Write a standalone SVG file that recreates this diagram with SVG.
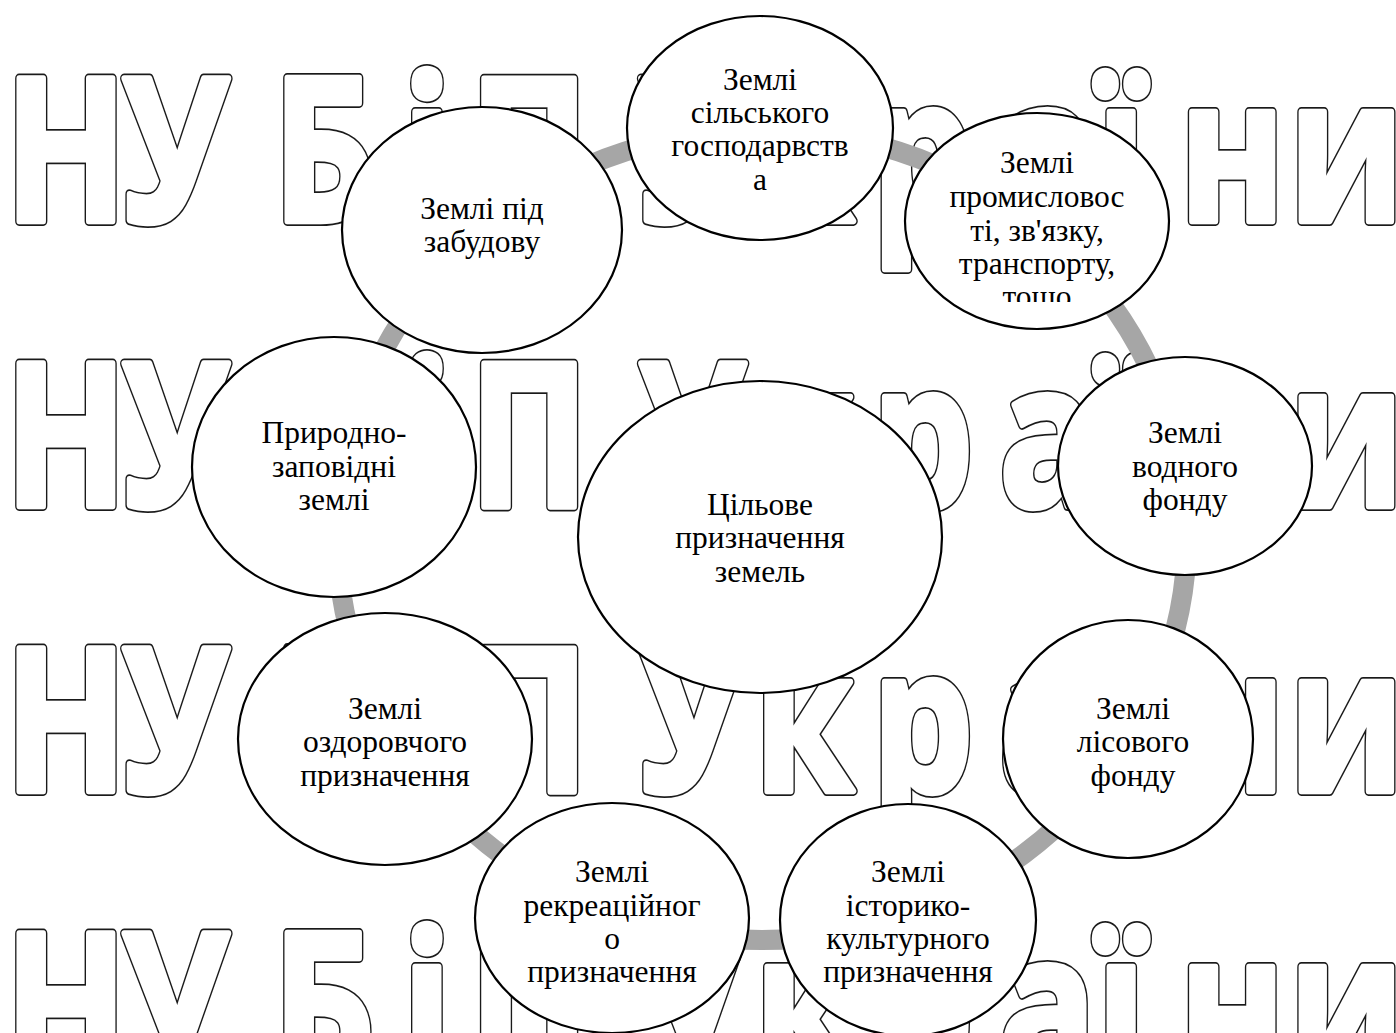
<svg xmlns="http://www.w3.org/2000/svg" width="1396" height="1033" viewBox="0 0 1396 1033">
<style>
.wmt{font-family:"Open Sans","Noto Sans","DejaVu Sans",sans-serif;font-weight:700;font-size:200px}
.wmA{fill:#fff;stroke:#1a1a1a;stroke-width:10;stroke-linejoin:round}
.wmB{fill:#fff;stroke:#fff;stroke-width:6.5;stroke-linejoin:round}
.node{fill:#fff;stroke:#000;stroke-width:2.2}
.lbl{font-family:"Liberation Serif","Times New Roman",serif;font-size:31.5px;fill:#000;text-anchor:middle}
.ring{fill:none;stroke:#a6a6a6;stroke-width:20}
</style>
<defs>
<clipPath id="clipProm"><rect x="900" y="0" width="300" height="302"/></clipPath>
<text id="wm1" class="wmt" y="221"><tspan x="6 153 341 503 587">НУБіП</tspan><tspan x="799 943 1090 1249 1371 1474 1611">України</tspan></text>
<text id="wm2" class="wmt" y="506"><tspan x="6 153 341 503 587">НУБіП</tspan><tspan x="799 943 1090 1249 1371 1474 1611">України</tspan></text>
<text id="wm3" class="wmt" y="791"><tspan x="6 153 341 503 587">НУБіП</tspan><tspan x="799 943 1090 1249 1371 1474 1611">України</tspan></text>
<text id="wm4" class="wmt" y="1076"><tspan x="6 153 341 503 587">НУБіП</tspan><tspan x="799 943 1090 1249 1371 1474 1611">України</tspan></text>
</defs>
<rect width="1396" height="1033" fill="#fff"/>
<g id="watermark" transform="scale(0.8,1)">
<use href="#wm1" class="wmA"/><use href="#wm2" class="wmA"/><use href="#wm3" class="wmA"/><use href="#wm4" class="wmA"/>
<use href="#wm1" class="wmB"/><use href="#wm2" class="wmB"/><use href="#wm3" class="wmB"/><use href="#wm4" class="wmB"/>
</g>
<g id="connectors">
<ellipse class="ring" cx="762" cy="535" rx="425" ry="405"/>
</g>
<g id="n-silsk">
<ellipse class="node" cx="760" cy="128" rx="133" ry="112"/>
<text class="lbl" x="760" y="90">Землі</text>
<text class="lbl" x="760" y="123">сільського</text>
<text class="lbl" x="760" y="156">господарвств</text>
<text class="lbl" x="760" y="190">а</text>
</g>
<g id="n-prom">
<ellipse class="node" cx="1037" cy="221" rx="132" ry="108"/>
<g clip-path="url(#clipProm)">
<text class="lbl" x="1037" y="173">Землі</text>
<text class="lbl" x="1037" y="207">промисловос</text>
<text class="lbl" x="1037" y="241">ті, зв'язку,</text>
<text class="lbl" x="1037" y="274">транспорту,</text>
<text class="lbl" x="1037" y="307">тощо</text>
</g>
</g>
<g id="n-vodn">
<ellipse class="node" cx="1185" cy="466" rx="127" ry="109"/>
<text class="lbl" x="1185" y="443">Землі</text>
<text class="lbl" x="1185" y="477">водного</text>
<text class="lbl" x="1185" y="510">фонду</text>
</g>
<g id="n-lis">
<ellipse class="node" cx="1128" cy="739" rx="125" ry="119"/>
<text class="lbl" x="1133" y="719">Землі</text>
<text class="lbl" x="1133" y="752">лісового</text>
<text class="lbl" x="1133" y="786">фонду</text>
</g>
<g id="n-ist">
<ellipse class="node" cx="908" cy="920" rx="128" ry="116"/>
<text class="lbl" x="908" y="882">Землі</text>
<text class="lbl" x="908" y="916">історико-</text>
<text class="lbl" x="908" y="949">культурного</text>
<text class="lbl" x="908" y="982">призначення</text>
</g>
<g id="n-rekr">
<ellipse class="node" cx="612" cy="918" rx="137" ry="115"/>
<text class="lbl" x="612" y="882">Землі</text>
<text class="lbl" x="612" y="916">рекреаційног</text>
<text class="lbl" x="612" y="949">о</text>
<text class="lbl" x="612" y="982">призначення</text>
</g>
<g id="n-ozd">
<ellipse class="node" cx="385" cy="739" rx="147" ry="126"/>
<text class="lbl" x="385" y="719">Землі</text>
<text class="lbl" x="385" y="752">оздоровчого</text>
<text class="lbl" x="385" y="786">призначення</text>
</g>
<g id="n-pryr">
<ellipse class="node" cx="334" cy="467" rx="142" ry="130"/>
<text class="lbl" x="334" y="443">Природно-</text>
<text class="lbl" x="334" y="477">заповідні</text>
<text class="lbl" x="334" y="510">землі</text>
</g>
<g id="n-zab">
<ellipse class="node" cx="482" cy="230" rx="140" ry="123"/>
<text class="lbl" x="482" y="219">Землі під</text>
<text class="lbl" x="482" y="252">забудову</text>
</g>
<g id="n-center">
<ellipse class="node" cx="760" cy="537" rx="182" ry="156"/>
<text class="lbl" x="760" y="515">Цільове</text>
<text class="lbl" x="760" y="548">призначення</text>
<text class="lbl" x="760" y="582">земель</text>
</g>
</svg>
